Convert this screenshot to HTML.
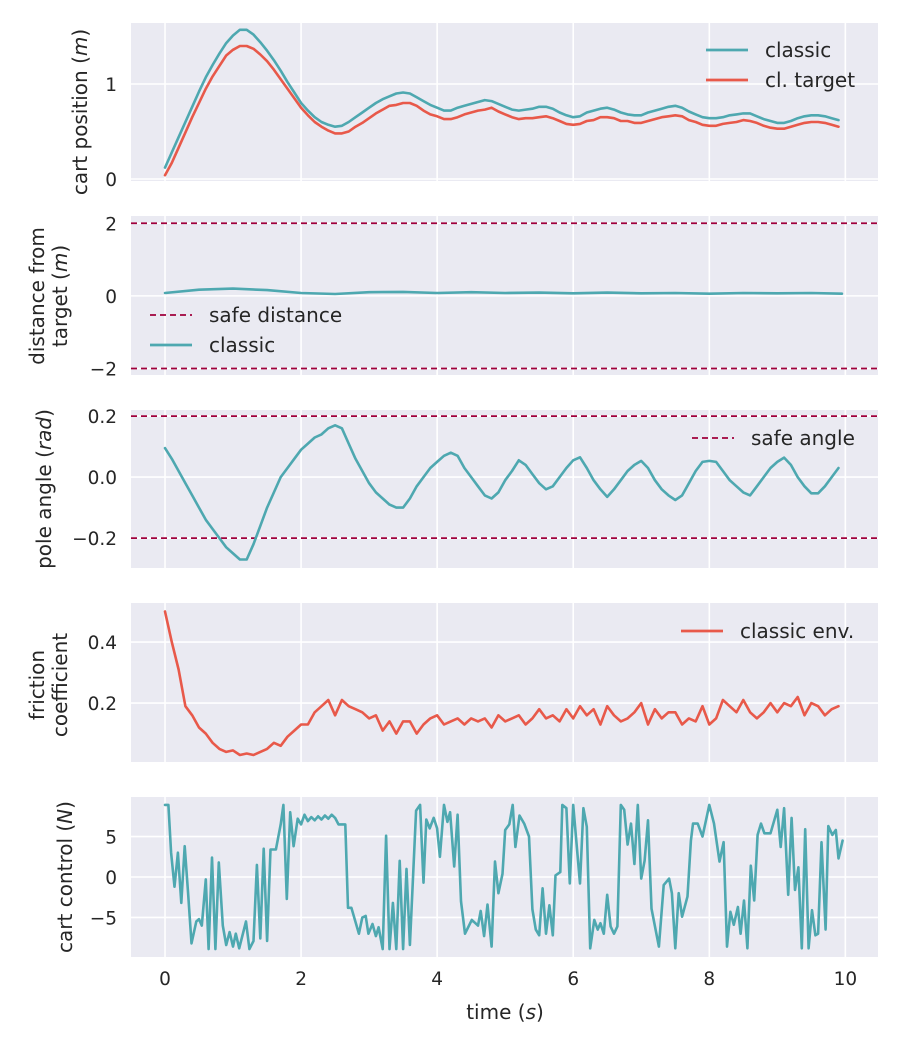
<!DOCTYPE html>
<html><head><meta charset="utf-8"><style>
body{margin:0;background:#fff}
svg{display:block;font-family:"DejaVu Sans","Liberation Sans",sans-serif}
</style></head><body>
<svg id="chart" width="900" height="1050" viewBox="0 0 900 1050" xmlns="http://www.w3.org/2000/svg"></svg>
<script>
// ---- data ----
const tSmooth = [0,0.1,0.2,0.3,0.4,0.5,0.6,0.7,0.8,0.9,1,1.1,1.2,1.3,1.4,1.5,1.6,1.7,1.8,1.9,2,2.1,2.2,2.3,2.4,2.5,2.6,2.7,2.8,2.9,3,3.1,3.2,3.3,3.4,3.5,3.6,3.7,3.8,3.9,4,4.1,4.2,4.3,4.4,4.5,4.6,4.7,4.8,4.9,5,5.1,5.2,5.3,5.4,5.5,5.6,5.7,5.8,5.9,6,6.1,6.2,6.3,6.4,6.5,6.6,6.7,6.8,6.9,7,7.1,7.2,7.3,7.4,7.5,7.6,7.7,7.8,7.9,8,8.1,8.2,8.3,8.4,8.5,8.6,8.7,8.8,8.9,9,9.1,9.2,9.3,9.4,9.5,9.6,9.7,9.8,9.9];
const cartClassic = [0.12,0.28,0.44,0.6,0.76,0.92,1.07,1.2,1.32,1.43,1.51,1.57,1.57,1.52,1.44,1.35,1.25,1.14,1.02,0.91,0.8,0.72,0.65,0.6,0.57,0.55,0.56,0.6,0.65,0.7,0.75,0.8,0.84,0.87,0.9,0.91,0.9,0.86,0.82,0.78,0.75,0.72,0.72,0.75,0.77,0.79,0.81,0.83,0.82,0.79,0.76,0.73,0.72,0.73,0.74,0.76,0.76,0.74,0.7,0.67,0.65,0.66,0.7,0.72,0.74,0.75,0.73,0.7,0.68,0.67,0.67,0.7,0.72,0.74,0.76,0.77,0.75,0.71,0.68,0.65,0.64,0.64,0.65,0.67,0.68,0.69,0.69,0.66,0.63,0.61,0.59,0.59,0.61,0.64,0.66,0.67,0.67,0.66,0.64,0.62];
const cartTarget = [0.04,0.17,0.33,0.49,0.65,0.8,0.95,1.08,1.19,1.3,1.36,1.4,1.4,1.37,1.31,1.24,1.15,1.05,0.95,0.85,0.75,0.67,0.6,0.55,0.51,0.48,0.48,0.5,0.55,0.59,0.64,0.69,0.73,0.77,0.78,0.8,0.8,0.77,0.72,0.68,0.66,0.63,0.63,0.65,0.68,0.7,0.72,0.73,0.75,0.71,0.68,0.65,0.63,0.64,0.64,0.65,0.66,0.64,0.61,0.58,0.57,0.58,0.61,0.62,0.65,0.65,0.64,0.61,0.61,0.59,0.59,0.61,0.63,0.65,0.66,0.67,0.66,0.62,0.6,0.57,0.56,0.56,0.58,0.59,0.6,0.62,0.61,0.59,0.56,0.54,0.53,0.53,0.55,0.57,0.59,0.6,0.6,0.59,0.57,0.55];
const distT = [0,0.5,1,1.5,2,2.5,3,3.5,4,4.5,5,5.5,6,6.5,7,7.5,8,8.5,9,9.5,9.95];
const distV = [0.08,0.17,0.2,0.16,0.08,0.05,0.1,0.11,0.08,0.1,0.08,0.09,0.07,0.09,0.07,0.08,0.06,0.08,0.07,0.08,0.06];
const poleAngle = [0.095,0.06,0.02,-0.02,-0.06,-0.1,-0.14,-0.17,-0.2,-0.23,-0.25,-0.27,-0.27,-0.22,-0.16,-0.1,-0.05,0,0.03,0.06,0.09,0.11,0.13,0.14,0.16,0.17,0.16,0.11,0.06,0.02,-0.02,-0.05,-0.07,-0.09,-0.1,-0.1,-0.07,-0.03,0,0.03,0.05,0.07,0.08,0.07,0.03,0,-0.03,-0.06,-0.07,-0.05,-0.01,0.02,0.055,0.04,0.01,-0.02,-0.04,-0.03,0,0.03,0.055,0.065,0.03,-0.01,-0.04,-0.065,-0.04,-0.01,0.02,0.04,0.053,0.03,-0.01,-0.04,-0.06,-0.075,-0.06,-0.02,0.02,0.05,0.053,0.05,0.02,-0.01,-0.03,-0.05,-0.06,-0.03,0,0.03,0.05,0.064,0.04,0,-0.03,-0.053,-0.053,-0.03,0,0.03];
const friction = [0.5,0.4,0.31,0.19,0.16,0.12,0.1,0.07,0.05,0.04,0.045,0.03,0.035,0.03,0.04,0.05,0.07,0.06,0.09,0.11,0.13,0.13,0.17,0.19,0.21,0.16,0.21,0.19,0.18,0.17,0.15,0.16,0.11,0.14,0.1,0.14,0.14,0.1,0.13,0.15,0.16,0.13,0.14,0.15,0.13,0.15,0.14,0.15,0.12,0.16,0.14,0.15,0.16,0.13,0.15,0.18,0.15,0.16,0.14,0.18,0.15,0.19,0.16,0.18,0.13,0.19,0.16,0.14,0.15,0.17,0.2,0.13,0.18,0.15,0.17,0.17,0.13,0.15,0.14,0.19,0.13,0.15,0.21,0.19,0.17,0.21,0.17,0.15,0.17,0.2,0.17,0.2,0.19,0.22,0.16,0.2,0.19,0.16,0.18,0.19];
const ctrlT = [0,0.05,0.09,0.14,0.19,0.24,0.29,0.34,0.39,0.46,0.5,0.54,0.6,0.64,0.69,0.74,0.79,0.85,0.9,0.95,1,1.04,1.09,1.19,1.24,1.3,1.35,1.4,1.45,1.5,1.55,1.63,1.7,1.74,1.79,1.84,1.89,1.95,2,2.05,2.1,2.15,2.2,2.25,2.3,2.35,2.4,2.45,2.5,2.55,2.6,2.65,2.69,2.74,2.85,2.9,2.95,2.99,3.05,3.1,3.14,3.2,3.25,3.3,3.35,3.4,3.45,3.5,3.55,3.6,3.69,3.75,3.8,3.84,3.89,3.95,4,4.04,4.1,4.15,4.19,4.25,4.3,4.35,4.41,4.51,4.6,4.64,4.69,4.74,4.8,4.85,4.9,4.96,5,5.06,5.11,5.15,5.21,5.28,5.35,5.4,5.45,5.5,5.55,5.6,5.65,5.7,5.74,5.81,5.84,5.9,5.95,6,6.1,6.15,6.2,6.25,6.31,6.36,6.4,6.45,6.5,6.55,6.6,6.65,6.7,6.75,6.8,6.85,6.9,6.95,7,7.05,7.1,7.15,7.26,7.33,7.41,7.45,7.5,7.55,7.6,7.68,7.73,7.76,7.83,7.9,8,8.07,8.15,8.21,8.26,8.31,8.36,8.42,8.46,8.51,8.56,8.61,8.66,8.71,8.76,8.81,8.9,9,9.05,9.1,9.16,9.21,9.26,9.31,9.36,9.41,9.46,9.51,9.56,9.6,9.65,9.71,9.75,9.81,9.86,9.9,9.96];
const ctrlV = [8.9,8.9,3,-1.2,3,-3.2,3.8,-2,-8.2,-5.5,-5.2,-6,-0.3,-8.9,2.4,-8.9,1.8,-6,-8.4,-6.8,-8.6,-7,-8.8,-5.5,-8.9,-7.9,1.5,-7.6,3.5,-7.9,3.4,3.4,6.5,8.9,-2.7,8,3.8,7.2,6.5,7.7,6.9,7.4,7,7.5,7.1,7.6,7.2,7.7,7.3,6.5,6.5,6.5,-3.8,-3.8,-7,-5,-4.8,-7,-5.8,-7.3,-6.2,-8.9,5.1,-8.9,-3.2,-8.9,2,-8.9,1,-8.4,8.2,8.9,-0.7,7.1,6,7.3,6,2.5,8.9,6.8,8,1.3,7.7,-3,-7,-5.3,-6,-4.2,-7.3,-3.4,-8.6,1.9,-2,0.4,5.8,6.5,8.9,3.7,7.6,6.6,5,-4,-6.5,-7.2,-1.4,-7,-3.5,-7.2,0.2,0.6,8.9,8.5,-0.8,8.9,-0.8,8.5,6.2,-8.8,-5.3,-6.5,-5.7,-7,-2.2,-6.1,-7,-6.1,8.9,8.3,4,6.6,1.6,8.9,-0.2,2,7,-3.9,-8.6,-1,-0.2,-2,-8.8,-2,-4.9,-2.4,4.5,6.6,6.6,5,8.9,6.6,1.9,4.3,-8.6,-4.3,-5.9,-3.7,-7,-2.9,-8.8,1.4,-2.9,5.2,6.6,5.4,5.4,8.3,3.7,8.5,-2.2,7.3,-1.6,1.2,-8.8,5.9,-8.8,-4.1,-7.2,-7,4.3,-6.5,6.3,5.2,5.8,2.3,4.5];
const xTicks = [0,2,4,6,8,10];

// ---- layout ----
const NS = "http://www.w3.org/2000/svg";
const svg = document.getElementById('chart');
const X0 = 131, X1 = 878, XMIN = -0.5, XMAX = 10.48;
const sx = v => X0 + (v - XMIN) / (XMAX - XMIN) * (X1 - X0);
const TEAL = "#4ea8b0", RED = "#e8594a", DASH = "#a0003c", TXT = "#262626";
const TICK_FS = 18.5, LABEL_FS = 20, LEG_FS = 20;

function el(tag, attrs, parent) {
  const e = document.createElementNS(NS, tag);
  for (const k in attrs) e.setAttribute(k, attrs[k]);
  (parent || svg).appendChild(e);
  return e;
}
function makePanel(name, top, bottom, ymin, ymax, ticks, tickLabels) {
  const sy = v => bottom - (v - ymin) / (ymax - ymin) * (bottom - top);
  const g = el('g', {});
  
  
  const bg = el('rect', {x: X0, y: top, width: X1 - X0, height: bottom - top, fill: '#eaeaf2'}, g);
  
  
  xTicks.forEach(t => {
    const l = el('line', {x1: sx(t), x2: sx(t), y1: top, y2: bottom, stroke: '#fff', 'stroke-width': 1.6}, g);
    
    
  });
  ticks.forEach((t, i) => {
    const l = el('line', {x1: X0, x2: X1, y1: sy(t), y2: sy(t), stroke: '#fff', 'stroke-width': 1.6}, g);
    
    
    const tx = el('text', {x: 117, y: sy(t) + 7, 'text-anchor': 'end', 'font-size': TICK_FS, fill: TXT}, g);
    tx.textContent = tickLabels[i];
    
    
  });
  return {g, sy};
}
function line(p, xs, ys, color, name) {
  let d = '';
  xs.forEach((x, i) => { d += (i ? 'L' : 'M') + sx(x).toFixed(1) + ',' + p.sy(ys[i]).toFixed(1); });
  const path = el('path', {d: d, fill: 'none', stroke: color, 'stroke-width': 2.6, 'stroke-linejoin': 'round', 'stroke-linecap': 'round'}, p.g);
  
  
  return path;
}
function hline(p, v, name) {
  const l = el('line', {x1: X0, x2: X1, y1: p.sy(v), y2: p.sy(v), stroke: DASH, 'stroke-width': 1.8, 'stroke-dasharray': '6,4'}, p.g);
  
  
}
function legendEntry(g, x, y, color, dashed, label, name) {
  const a = {x1: x, x2: x + 42, y1: y, y2: y, stroke: color, 'stroke-width': dashed ? 1.8 : 2.8};
  if (dashed) a['stroke-dasharray'] = '6,4';
  const grp = el('g', {}, g);
  
  
  el('line', a, grp);
  const t = el('text', {x: x + 59, y: y + 7, 'font-size': LEG_FS, fill: TXT}, grp);
  t.textContent = label;
}
function ylabel(lines, cx, cy, name) {
  const t = el('text', {transform: `translate(${cx},${cy}) rotate(-90)`, 'text-anchor': 'middle', 'font-size': LABEL_FS, fill: TXT});
  
  
  lines.forEach((ln, i) => {
    const ts = el('tspan', {x: 0, dy: i ? 23 : 0}, t);
    ln.forEach(part => {
      const s = el('tspan', part[1] ? {'font-style': 'italic'} : {}, ts);
      s.textContent = part[0];
    });
  });
}

// Panel 1: cart position
const p1 = makePanel('cart-position', 23, 181, -0.021, 1.642, [0, 1], ['0', '1']);
line(p1, tSmooth, cartClassic, TEAL, 'cart-position-classic-line');
line(p1, tSmooth, cartTarget, RED, 'cart-position-target-line');
legendEntry(p1.g, 706, 50, TEAL, false, 'classic', 'legend-entry-classic');
legendEntry(p1.g, 706, 80, RED, false, 'cl. target', 'legend-entry-cl-target');
ylabel([[['cart position (', 0], ['m', 1], [')', 0]]], 87, 112, 'cart-position-y-axis-title');

// Panel 2: distance
const p2 = makePanel('distance', 216, 375, -2.18, 2.2, [-2, 0, 2], ['\u22122', '0', '2']);
hline(p2, 2, 'safe-distance-upper-line');
hline(p2, -2, 'safe-distance-lower-line');
line(p2, distT, distV, TEAL, 'distance-classic-line');
legendEntry(p2.g, 150, 315, DASH, true, 'safe distance', 'legend-entry-safe-distance');
legendEntry(p2.g, 150, 345, TEAL, false, 'classic', 'legend-entry-classic-distance');
ylabel([[['distance from', 0]], [['target (', 0], ['m', 1], [')', 0]]], 44, 296, 'distance-y-axis-title');

// Panel 3: pole angle
const p3 = makePanel('pole-angle', 410, 568, -0.298, 0.22, [-0.2, 0, 0.2], ['\u22120.2', '0.0', '0.2']);
hline(p3, 0.2, 'safe-angle-upper-line');
hline(p3, -0.2, 'safe-angle-lower-line');
line(p3, tSmooth, poleAngle, TEAL, 'pole-angle-classic-line');
legendEntry(p3.g, 692, 438, DASH, true, 'safe angle', 'legend-entry-safe-angle');
ylabel([[['pole angle (', 0], ['rad', 1], [')', 0]]], 51, 489, 'pole-angle-y-axis-title');

// Panel 4: friction
const p4 = makePanel('friction', 603, 762, 0.007, 0.528, [0.2, 0.4], ['0.2', '0.4']);
line(p4, tSmooth, friction, RED, 'friction-classic-env-line');
legendEntry(p4.g, 681, 631, RED, false, 'classic env.', 'legend-entry-classic-env');
ylabel([[['friction', 0]], [['coefficient', 0]]], 44, 685, 'friction-y-axis-title');

// Panel 5: control
const p5 = makePanel('cart-control', 797, 957, -9.88, 9.88, [-5, 0, 5], ['\u22125', '0', '5']);
line(p5, ctrlT, ctrlV, TEAL, 'cart-control-classic-line');
ylabel([[['cart control (', 0], ['N', 1], [')', 0]]], 72, 877, 'cart-control-y-axis-title');

// x ticks
xTicks.forEach(t => {
  const tx = el('text', {x: sx(t), y: 985, 'text-anchor': 'middle', 'font-size': TICK_FS, fill: TXT});
  tx.textContent = String(t);
  
  
});
const xl = el('text', {x: 505, y: 1019, 'text-anchor': 'middle', 'font-size': LABEL_FS, fill: TXT});


const a1 = el('tspan', {}, xl); a1.textContent = 'time (';
const a2 = el('tspan', {'font-style': 'italic'}, xl); a2.textContent = 's';
const a3 = el('tspan', {}, xl); a3.textContent = ')';
</script>
</body></html>
